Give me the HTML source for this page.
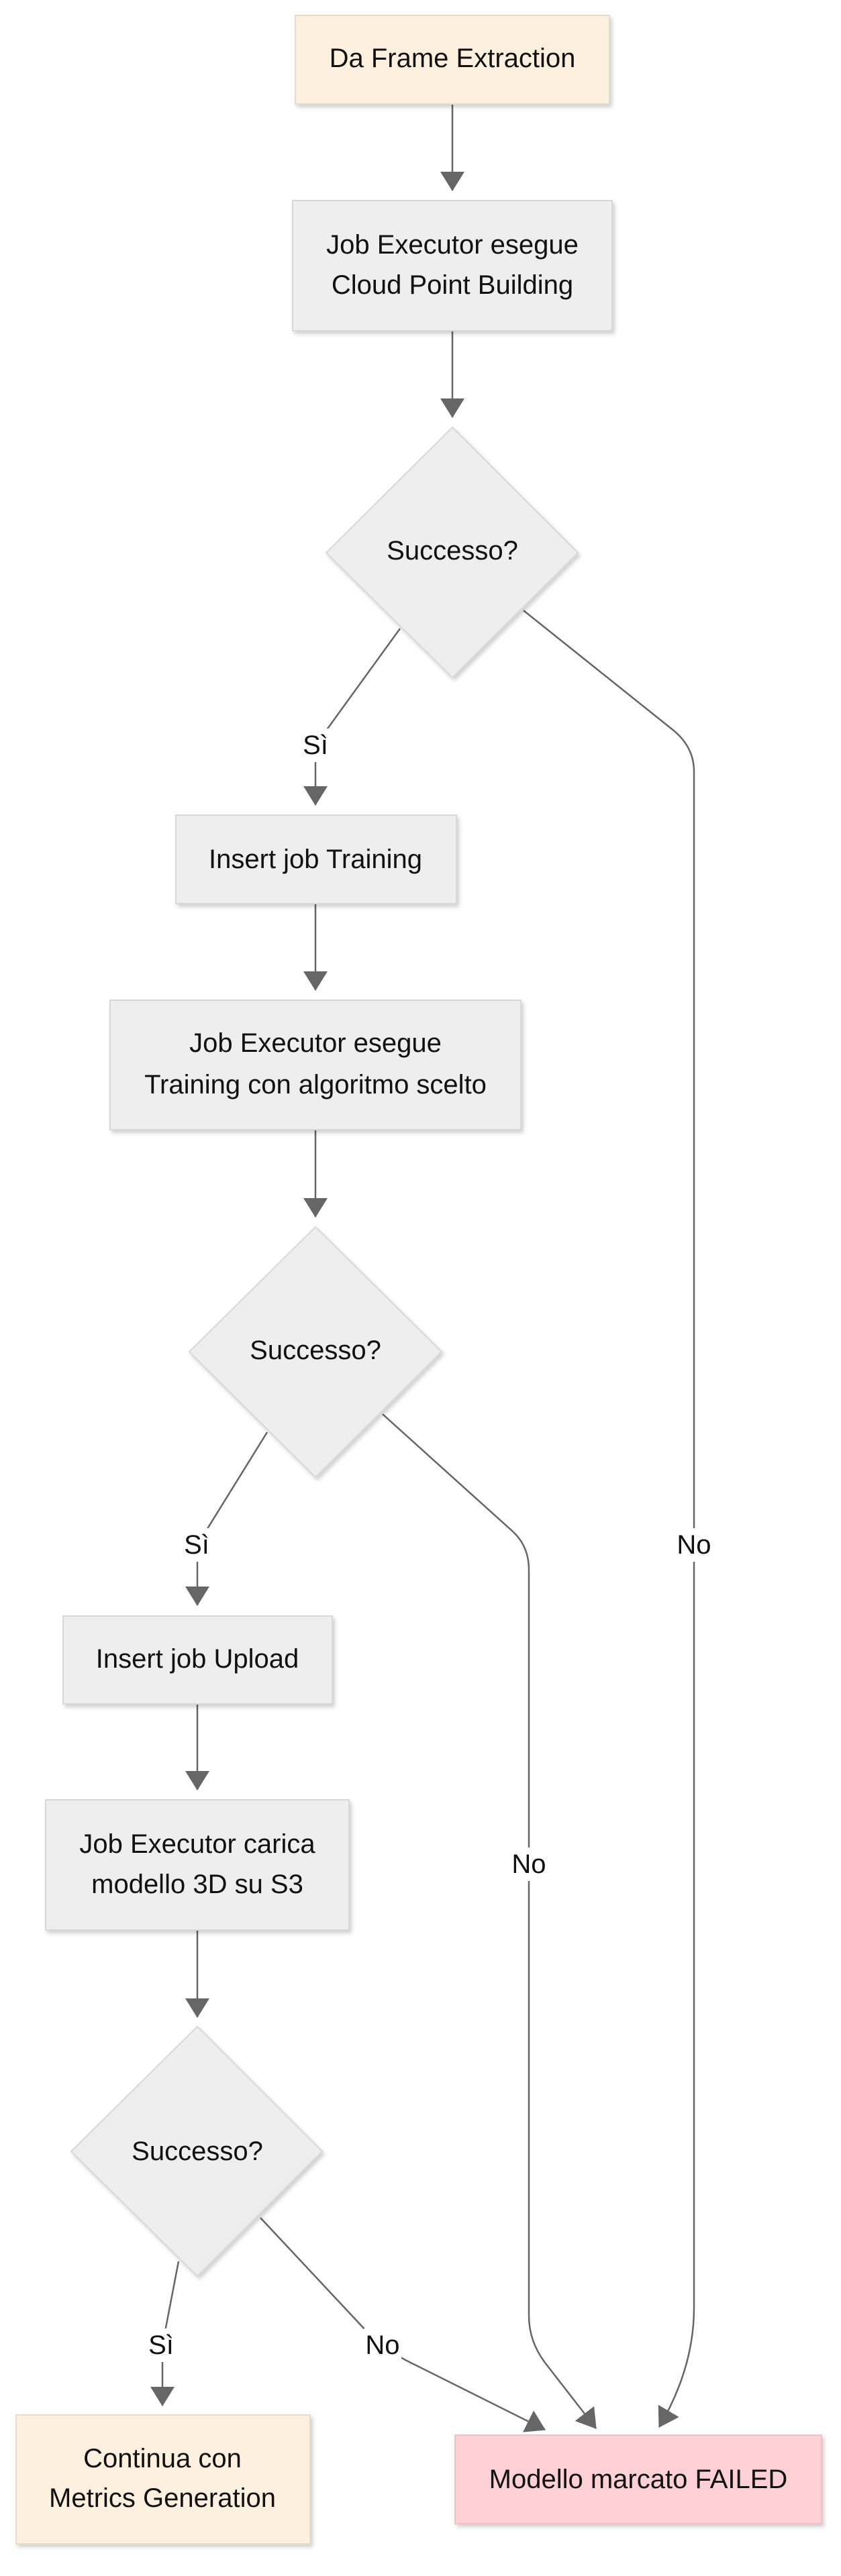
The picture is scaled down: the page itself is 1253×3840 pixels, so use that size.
<!DOCTYPE html>
<html><head><meta charset="utf-8"><style>
html,body{margin:0;padding:0;background:#fff;}
svg{display:block;}
text{font-family:"Liberation Sans",sans-serif;font-size:40px;fill:#111;text-anchor:middle;dominant-baseline:central;}
.g{fill:#eeeeee;stroke:#d8d8d8;stroke-width:2;}
.b{fill:#fdf0df;stroke:#e6dccb;stroke-width:2;}
.p{fill:#fdd0d6;stroke:#ecc4c8;stroke-width:2;}
.e{fill:none;stroke:#666;stroke-width:2.5;}
.lb{fill:#fff;}
</style></head><body>
<svg width="1253" height="3840" viewBox="0 0 1253 3840" xmlns="http://www.w3.org/2000/svg">
<defs>
<filter id="sh" x="-10%" y="-10%" width="130%" height="130%"><feDropShadow dx="3" dy="4" stdDeviation="3" flood-color="#000" flood-opacity="0.18"/></filter>
<marker id="ah" markerUnits="userSpaceOnUse" markerWidth="30" markerHeight="36" refX="28" refY="18" orient="auto" viewBox="0 0 30 36"><path d="M0 0 L29 18 L0 36 Z" fill="#666"/></marker>
</defs>

<!-- edges -->
<path class="e" d="M674 155 L674 284" marker-end="url(#ah)"/>
<path class="e" d="M674 493 L674 622" marker-end="url(#ah)"/>
<path class="e" d="M596 937 L470 1111 L470 1200" marker-end="url(#ah)"/>
<path class="e" d="M780 910 L1000 1086 Q1034 1112 1034 1150 L1034 3440 Q1034 3530 982 3618" marker-end="url(#ah)"/>
<path class="e" d="M470 1347 L470 1476" marker-end="url(#ah)"/>
<path class="e" d="M470 1684 L470 1814" marker-end="url(#ah)"/>
<path class="e" d="M398 2135 L294 2303 L294 2393" marker-end="url(#ah)"/>
<path class="e" d="M570 2108 L764 2283 Q788 2305 788 2340 L788 3452 Q788 3490 812 3522 L888 3620" marker-end="url(#ah)"/>
<path class="e" d="M294 2540 L294 2668" marker-end="url(#ah)"/>
<path class="e" d="M294 2877 L294 3007" marker-end="url(#ah)"/>
<path class="e" d="M266 3371 L242 3496 L242 3586" marker-end="url(#ah)"/>
<path class="e" d="M388 3306 L560 3490 Q590 3512 620 3526 L812 3622" marker-end="url(#ah)"/>

<!-- labels -->
<rect class="lb" x="448" y="1086" width="44" height="50"/><text x="470" y="1111">Sì</text>
<rect class="lb" x="270" y="2278" width="46" height="50"/><text x="293" y="2303">Sì</text>
<rect class="lb" x="218" y="3471" width="46" height="50"/><text x="240" y="3496">Sì</text>
<rect class="lb" x="1006" y="2278" width="56" height="50"/><text x="1034" y="2303">No</text>
<rect class="lb" x="760" y="2754" width="56" height="50"/><text x="788" y="2779">No</text>
<rect class="lb" x="542" y="3471" width="56" height="50"/><text x="570" y="3496">No</text>

<!-- nodes -->
<rect class="b" filter="url(#sh)" x="440" y="23" width="468" height="132"/>
<text x="674" y="87">Da Frame Extraction</text>

<rect class="g" filter="url(#sh)" x="436" y="299" width="476" height="194"/>
<text x="674" y="365">Job Executor esegue</text>
<text x="674" y="425">Cloud Point Building</text>

<polygon class="g" filter="url(#sh)" points="674,637 861,824 674,1010 486,824"/>
<text x="674" y="821">Successo?</text>

<rect class="g" filter="url(#sh)" x="262" y="1215" width="418" height="132"/>
<text x="470" y="1281">Insert job Training</text>

<rect class="g" filter="url(#sh)" x="164" y="1491" width="612" height="193"/>
<text x="470" y="1555">Job Executor esegue</text>
<text x="470" y="1617">Training con algoritmo scelto</text>

<polygon class="g" filter="url(#sh)" points="470,1829 658,2015 470,2202 282,2015"/>
<text x="470" y="2013">Successo?</text>

<rect class="g" filter="url(#sh)" x="94" y="2409" width="401" height="131"/>
<text x="294" y="2473">Insert job Upload</text>

<rect class="g" filter="url(#sh)" x="68" y="2683" width="452" height="194"/>
<text x="294" y="2749">Job Executor carica</text>
<text x="294" y="2809">modello 3D su S3</text>

<polygon class="g" filter="url(#sh)" points="294,3021 480,3207 294,3393 106,3207"/>
<text x="294" y="3207">Successo?</text>

<rect class="b" filter="url(#sh)" x="24" y="3600" width="438" height="192"/>
<text x="242" y="3665">Continua con</text>
<text x="242" y="3724">Metrics Generation</text>

<rect class="p" filter="url(#sh)" x="678" y="3630" width="546" height="132"/>
<text x="951" y="3696">Modello marcato FAILED</text>
</svg>
</body></html>
